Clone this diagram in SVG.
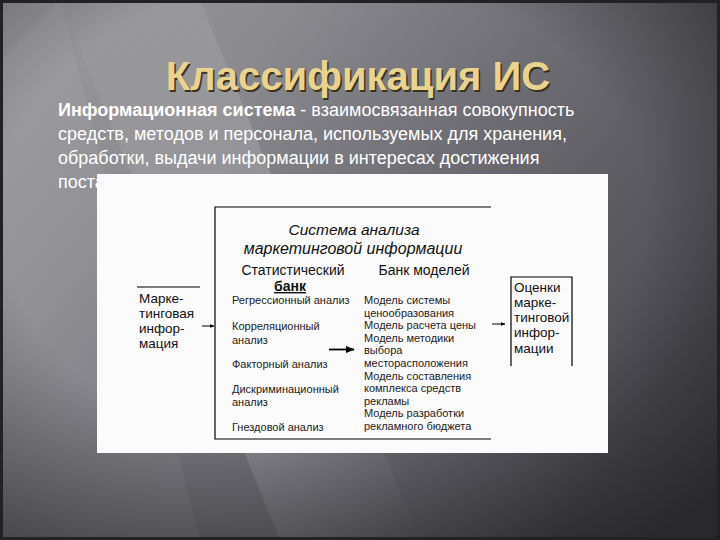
<svg xmlns="http://www.w3.org/2000/svg" width="720" height="540" viewBox="0 0 720 540">
<defs>
<linearGradient id="bg" x1="0" y1="0" x2="1" y2="0.6">
<stop offset="0" stop-color="#9c9ca0"/>
<stop offset="0.3" stop-color="#8a8a8f"/>
<stop offset="0.6" stop-color="#6c6c72"/>
<stop offset="1" stop-color="#4a4a50"/>
</linearGradient>
<linearGradient id="streak" x1="0" y1="0" x2="1" y2="1">
<stop offset="0" stop-color="#ffffff" stop-opacity="0"/>
<stop offset="0.5" stop-color="#ffffff" stop-opacity="0.18"/>
<stop offset="1" stop-color="#ffffff" stop-opacity="0"/>
</linearGradient>
<radialGradient id="vig" cx="0.45" cy="0.4" r="0.75">
<stop offset="0.6" stop-color="#000" stop-opacity="0"/>
<stop offset="1" stop-color="#000" stop-opacity="0.45"/>
</radialGradient>
<marker id="ah" viewBox="0 0 10 10" refX="9" refY="5" markerWidth="5" markerHeight="5" orient="auto">
<path d="M0,1 L10,5 L0,9 z" fill="#000"/>
</marker>
</defs>
<style>
.sans{font-family:"Liberation Sans",Arial,sans-serif}
.para{font-family:"Liberation Sans",Arial,sans-serif;font-size:18px;fill:#ffffff}
.item{font-family:"Liberation Sans",Arial,sans-serif;font-size:11px;fill:#222}
.lbl{font-family:"Liberation Sans",Arial,sans-serif;font-size:13.5px;fill:#111}
.hd{font-family:"Liberation Sans",Arial,sans-serif;font-size:14px;fill:#111}
.ln{stroke:#000;stroke-width:1.2;fill:none}
.arr{stroke:#000;stroke-width:1;fill:none;marker-end:url(#ah)}
</style>
<rect x="0" y="0" width="720" height="540" fill="url(#bg)"/>
<polygon points="60,0 200,0 420,540 280,540" fill="url(#streak)"/>
<polygon points="0,60 60,0 200,540 0,540" fill="#ffffff" opacity="0.05"/>
<rect x="0" y="0" width="720" height="540" fill="url(#vig)"/>
<rect x="1.5" y="1.5" width="717" height="537" fill="none" stroke="#222" stroke-width="3"/>

<g id="title">
<text x="358" y="90" text-anchor="middle" class="sans" font-size="40" font-weight="bold" fill="#3a3320" transform="translate(1.5,1.5)">Классификация ИС</text>
<text x="358" y="90" text-anchor="middle" class="sans" font-size="40" font-weight="bold" fill="#ead38f">Классификация ИС</text>
</g>
<g id="definition">
<text class="para" x="58" y="116"><tspan font-weight="bold">Информационная система</tspan> - взаимосвязанная совокупность</text>
<text class="para" x="58" y="140">средств, методов и персонала, используемых для хранения,</text>
<text class="para" x="58" y="164">обработки, выдачи информации в интересах достижения</text>
<text class="para" x="58" y="188">поставленной цели</text>
</g>

<rect x="97" y="174" width="511" height="279" fill="#fbfbfb"/>

<g id="system">
<path class="ln" d="M491,207 H215 V439 H491"/>
<text x="354" y="235" text-anchor="middle" class="sans" font-size="15.5" font-style="italic" fill="#111">Система анализа</text>
<text x="353" y="254" text-anchor="middle" class="sans" font-size="16" font-style="italic" fill="#111">маркетинговой информации</text>
</g>
<g id="stat-bank">
<text x="293" y="275" text-anchor="middle" class="hd">Статистический</text>
<text x="290" y="291" text-anchor="middle" class="hd" font-weight="bold" text-decoration="underline">банк</text>
<text class="item" x="232" y="304">Регрессионный анализ</text>
<text class="item" x="232" y="330">Корреляционный</text>
<text class="item" x="232" y="344">анализ</text>
<text class="item" x="232" y="368">Факторный анализ</text>
<text class="item" x="232" y="393">Дискриминационный</text>
<text class="item" x="232" y="406">анализ</text>
<text class="item" x="232" y="431">Гнездовой анализ</text>
</g>
<g id="model-bank">
<text x="424" y="275" text-anchor="middle" class="hd">Банк моделей</text>
<text class="item" x="364" y="304">Модель системы</text>
<text class="item" x="364" y="316.6">ценообразования</text>
<text class="item" x="364" y="329.2">Модель расчета цены</text>
<text class="item" x="364" y="341.8">Модель методики</text>
<text class="item" x="364" y="354.4">выбора</text>
<text class="item" x="364" y="367">месторасположения</text>
<text class="item" x="364" y="379.6">Модель составления</text>
<text class="item" x="364" y="392.2">комплекса средств</text>
<text class="item" x="364" y="404.8">рекламы</text>
<text class="item" x="364" y="417.4">Модель разработки</text>
<text class="item" x="364" y="430">рекламного бюджета</text>
</g>
<g id="input">
<path class="ln" d="M137,287 H200"/>
<text class="lbl" x="139" y="303">Марке-</text>
<text class="lbl" x="139" y="318">тинговая</text>
<text class="lbl" x="139" y="333">инфор-</text>
<text class="lbl" x="139" y="348">мация</text>
</g>
<g id="output">
<path class="ln" d="M511,366 V277 H572 V366"/>
<text class="lbl" x="514" y="292">Оценки</text>
<text class="lbl" x="514" y="307">марке-</text>
<text class="lbl" x="514" y="322">тинговой</text>
<text class="lbl" x="514" y="337">инфор-</text>
<text class="lbl" x="514" y="353">мации</text>
</g>
<g id="connectors">
<line class="arr" x1="202" y1="326" x2="214" y2="326"/>
<line x1="329" y1="349.5" x2="354" y2="349.5" stroke="#000" stroke-width="1.8" marker-end="url(#ah)"/>
<line class="arr" x1="492" y1="324" x2="505" y2="324"/>
</g>
</svg>
